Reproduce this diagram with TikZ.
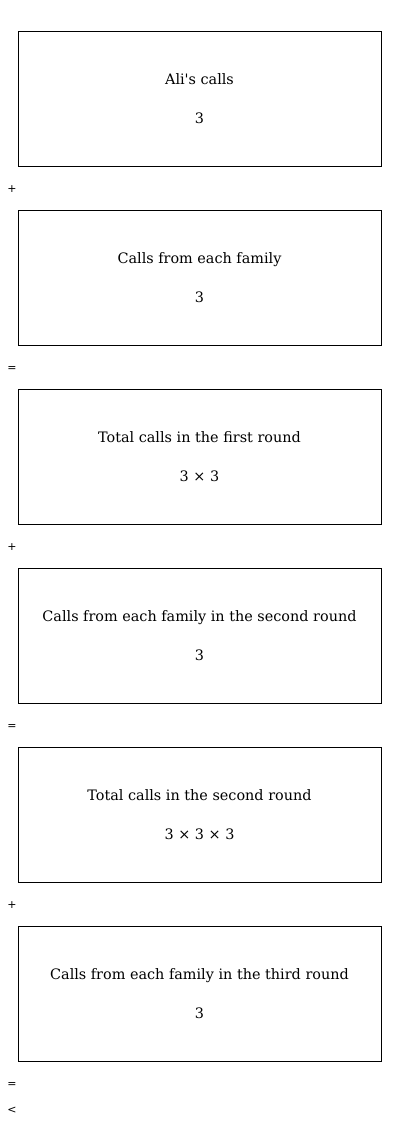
\documentclass[tikz,border=0pt]{standalone}
\usepackage{fontspec}
\newfontfamily\symfont{DejaVu Sans}
\newfontfamily\boxfont{DejaVu Serif}
\usetikzlibrary{positioning}

\begin{document}
\begin{tikzpicture}[x=1pt,y=1pt,node distance=43.6pt,
        box/.style={draw,rectangle,minimum width=363pt,minimum height=135pt,
          align=center,inner sep=0pt,font=\boxfont\fontsize{14.4}{17}\selectfont},
        op/.style={font=\symfont\fontsize{11}{13}\selectfont,inner sep=0pt}]
      \useasboundingbox (0,0) rectangle (400,-1130);

      \node[box] (ali) at (199.5,-98.5) {Ali's calls\\[22pt]3};
      \node[box] (fam) [below=of ali] {Calls from each family\\[22pt]3};
      \node[box] (first) [below=of fam] {Total calls in the first round\\[22pt]3 × 3};
      \node[box] (famtwo) [below=of first] {Calls from each family in the second round\\[22pt]3};
      \node[box] (second) [below=of famtwo] {Total calls in the second round\\[22pt]3 × 3 × 3};
      \node[box] (famthree) [below=of second] {Calls from each family in the third round\\[22pt]3};

      \node[op] (plus1) at (12,-189.5) {+};
      \node[op] (eq1) at (12,-368.5) {=};
      \node[op] (plus2) at (12,-547.5) {+};
      \node[op] (eq2) at (12,-726.5) {=};
      \node[op] (plus3) at (12,-905.5) {+};
      \node[op] (eq3) at (12,-1084.5) {=};
      \node[op] (less) at (12,-1110.5) {<};
    \end{tikzpicture}
\end{document}
